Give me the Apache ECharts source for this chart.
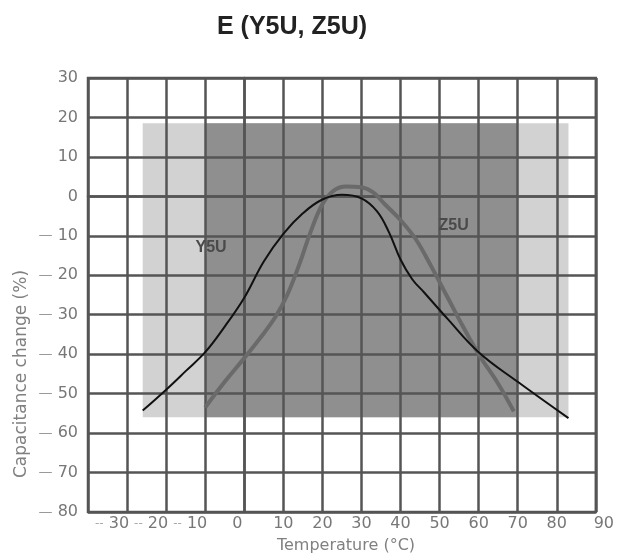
<!DOCTYPE html>
<html><head><meta charset="utf-8">
<script src="https://cdn.jsdelivr.net/npm/echarts@6/dist/echarts.min.js"></script>
<style>html,body{margin:0;padding:0;background:#fff}#c{width:617px;height:553px}</style>
</head><body><div id="c"></div>
<script>
// ---- data ----
const xTicks = [-40,-30,-20,-10,0,10,20,30,40,50,60,70,80,90];
const yTicks = [-80,-70,-60,-50,-40,-30,-20,-10,0,10,20,30];
const y5uTemp = [-26,-20,-15,-10,-5,0,5,10,15,20,25,30,34,37,40,43,46,52,60,70,83];
const y5uCap  = [-54.3,-49,-44.3,-39.5,-33,-25.7,-16.5,-9.5,-4.3,-0.8,0.4,-0.5,-3.8,-9,-16,-21,-24.3,-31,-39.5,-47,-56.2];
const z5uTemp = [-10,-5,0,4,8,11,14,17,20,23,26,30,33,36,40,44,48,52,56,60,65,69];
const z5uCap  = [-53.5,-47,-41,-36,-30.5,-25,-17.5,-9,-2,1.5,2.5,2.3,1,-2,-6,-11,-18,-25.5,-33,-40,-47.5,-54.5];
const lightBand = {tMin:-26, tMax:83, cMin:-56, cMax:18.5};
const darkBand  = {tMin:-10, tMax:70, cMin:-56, cMax:18.5};
const seriesNames = ['Y5U','Z5U'];
const labelPos = {Y5U:[-8.5,-12.9], Z5U:[53.6,-7.3]};

const zip = (a,b)=>a.map((v,i)=>[v,b[i]]);
const chart = echarts.init(document.getElementById('c'));
const gridC = '#555';
const lab = {fontFamily:'DejaVu Sans',fontSize:16,color:'#777'};
chart.setOption({
  animation:false,
  backgroundColor:'#fff',
  grid:{left:88,right:19,top:78,bottom:41,show:true,borderColor:gridC,borderWidth:2.5,backgroundColor:'transparent'},
  xAxis:{type:'value',min:xTicks[0],max:xTicks[xTicks.length-1],interval:10,z:3,
    axisLine:{show:true,lineStyle:{color:gridC,width:2.5}},axisTick:{show:false},
    splitLine:{show:true,lineStyle:{color:gridC,width:2.5}},
    axisLabel:Object.assign({margin:4,
      formatter:v=>{
        if(v===xTicks[0]) return '';
        if(v<0) return '{d|--} {n|'+Math.abs(v)+'}';
        if(v===0) return '{z|0}';
        if(v===90) return '{e|90}';
        return String(v);
      },
      rich:{d:{fontSize:12,color:'#aaa'},n:Object.assign({padding:[0,30,0,0]},lab),
            z:Object.assign({padding:[0,14,0,0]},lab),
            e:Object.assign({padding:[0,0,0,16]},lab)}},lab)},
  yAxis:{type:'value',min:yTicks[0],max:yTicks[yTicks.length-1],interval:10,z:3,
    axisLine:{show:true,lineStyle:{color:gridC,width:2.5}},axisTick:{show:false},
    splitLine:{show:true,lineStyle:{color:gridC,width:2.5}},
    axisLabel:Object.assign({margin:10,
      formatter:v=> v<0 ? '{d|—} '+Math.abs(v) : String(v),
      rich:{d:{fontSize:14,color:'#999'}}},lab)},
  graphic:[
    {type:'text',position:[292,27],style:{text:'E (Y5U, Z5U)',textAlign:'center',textVerticalAlign:'middle',
      font:'bold 25px "Liberation Sans", Arial, sans-serif',fill:'#222'}},
    {type:'text',position:[346,546],style:{text:'Temperature (°C)',textAlign:'center',textVerticalAlign:'middle',
      font:'16px "DejaVu Sans", sans-serif',fill:'#808080'}},
    {type:'text',position:[22,374],rotation:Math.PI/2,style:{text:'Capacitance change (%)',textAlign:'center',textVerticalAlign:'middle',
      font:'17px "DejaVu Sans", sans-serif',fill:'#808080'}}
  ],
  series:[
    {type:'line',data:[],z:1,silent:true,
      markArea:{silent:true,itemStyle:{color:'#d2d2d2'},data:[[{coord:[lightBand.tMin,lightBand.cMax]},{coord:[lightBand.tMax,lightBand.cMin]}]]}},
    {type:'line',data:[],z:1,silent:true,
      markArea:{silent:true,itemStyle:{color:'#8f8f8f'},data:[[{coord:[darkBand.tMin,darkBand.cMax]},{coord:[darkBand.tMax,darkBand.cMin]}]]}},
    {name:seriesNames[1],type:'line',z:5,smooth:0.4,showSymbol:false,data:zip(z5uTemp,z5uCap),
      lineStyle:{color:'#6a6a6a',width:4},
      markPoint:{symbolSize:0,label:{show:true,position:'inside',formatter:seriesNames[1],fontFamily:'Liberation Sans',fontWeight:'bold',fontSize:16,color:'#4a4a4a'},
        data:[{coord:labelPos.Z5U}]}},
    {name:seriesNames[0],type:'line',z:6,smooth:0.4,showSymbol:false,data:zip(y5uTemp,y5uCap),
      lineStyle:{color:'#111',width:2},
      markPoint:{symbolSize:0,label:{show:true,position:'inside',formatter:seriesNames[0],fontFamily:'Liberation Sans',fontWeight:'bold',fontSize:16,color:'#4a4a4a'},
        data:[{coord:labelPos.Y5U}]}}
  ]
});
</script></body></html>
